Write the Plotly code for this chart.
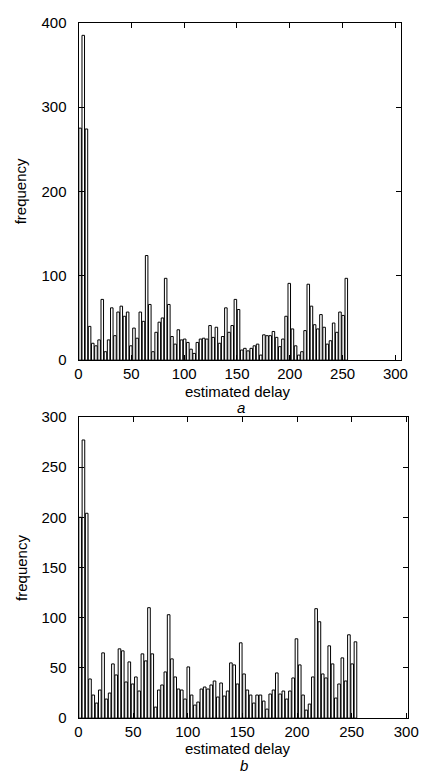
import plotly.graph_objects as go

# bin centres (estimated delay), 85 bins of width 3
bin_width = 3
n_bins = 85
delay = [bin_width * i + 1.5 for i in range(n_bins)]

freq_a = [275, 385, 274, 40, 20, 17, 24, 72, 10, 24,
          62, 29, 57, 64, 52, 57, 17, 38, 26, 57,
          46, 124, 66, 10, 33, 45, 50, 97, 66, 28,
          19, 36, 24, 25, 21, 13, 8, 21, 25, 26,
          25, 41, 27, 39, 20, 28, 62, 33, 41, 72,
          60, 12, 14, 11, 14, 17, 19, 6, 30, 29,
          29, 34, 27, 16, 25, 52, 91, 37, 17, 6,
          10, 35, 90, 64, 42, 37, 54, 39, 19, 23,
          44, 33, 57, 53, 97]

freq_b = [200, 277, 204, 39, 23, 15, 28, 65, 19, 25,
          54, 43, 69, 67, 36, 56, 34, 41, 27, 64,
          57, 110, 64, 11, 28, 33, 46, 103, 59, 41,
          29, 28, 19, 51, 23, 13, 16, 29, 31, 29,
          33, 37, 21, 35, 22, 27, 55, 53, 34, 75,
          44, 28, 23, 15, 23, 23, 17, 9, 24, 28,
          45, 24, 27, 19, 27, 40, 79, 53, 23, 8,
          14, 41, 109, 96, 44, 40, 72, 54, 20, 34,
          60, 37, 83, 54, 76]

x_ticks = [0, 50, 100, 150, 200, 250, 300]
y_ticks_a = [0, 100, 200, 300, 400]
y_ticks_b = [0, 50, 100, 150, 200, 250, 300]

W, H = 432, 777
FONT = "Liberation Sans, Arial, Helvetica, sans-serif"

fig = go.Figure()
bar_style = dict(marker=dict(color="white", line=dict(color="black", width=1)),
                 width=bin_width * 0.8, showlegend=False)
fig.add_trace(go.Bar(x=delay, y=freq_a, xaxis="x", yaxis="y", **bar_style))
fig.add_trace(go.Bar(x=delay, y=freq_b, xaxis="x2", yaxis="y2", **bar_style))

def px_x(a, b):
    return [a / W, b / W]

def px_y(top, bottom):
    return [1 - bottom / H, 1 - top / H]

axis_common = dict(showline=True, linecolor="black", linewidth=1, mirror="ticks",
                   ticks="inside", ticklen=5, tickcolor="black", showgrid=False,
                   zeroline=False, tickfont=dict(family=FONT, size=15, color="black"))

fig.update_layout(
    width=W, height=H, margin=dict(l=0, r=0, t=0, b=0),
    paper_bgcolor="white", plot_bgcolor="white",
    bargap=0.2,
    xaxis=dict(domain=px_x(77, 410), range=[0, 305], tickvals=x_ticks, anchor="y",
               ticklabelstandoff=0, **axis_common),
    yaxis=dict(domain=px_y(14, 359), range=[0, 400], tickvals=y_ticks_a, anchor="x",
               ticklabelstandoff=8, **axis_common),
    xaxis2=dict(domain=px_x(77, 418), range=[0, 302], tickvals=x_ticks, anchor="y2",
                ticklabelstandoff=0, **axis_common),
    yaxis2=dict(domain=px_y(417, 725), range=[0, 300], tickvals=y_ticks_b, anchor="x2",
                ticklabelstandoff=8, **axis_common),
)

def ann(text, xpx, ypx, angle=0, size=15):
    fig.add_annotation(text=text,
                       x=xpx / W, y=1 - ypx / H, xref="paper", yref="paper",
                       showarrow=False, textangle=angle, xanchor="center", yanchor="middle",
                       borderpad=0,
                       font=dict(family=FONT, size=size, color="black"))

ann("estimated delay", 242, 391)
ann("<i>a</i>", 245, 407)
ann("frequency", 18, 186, angle=-90)
ann("estimated delay", 242, 756)
ann("<i>b</i>", 248, 773)
ann("frequency", 18, 571, angle=-90)

fig.write_html("out.html")
